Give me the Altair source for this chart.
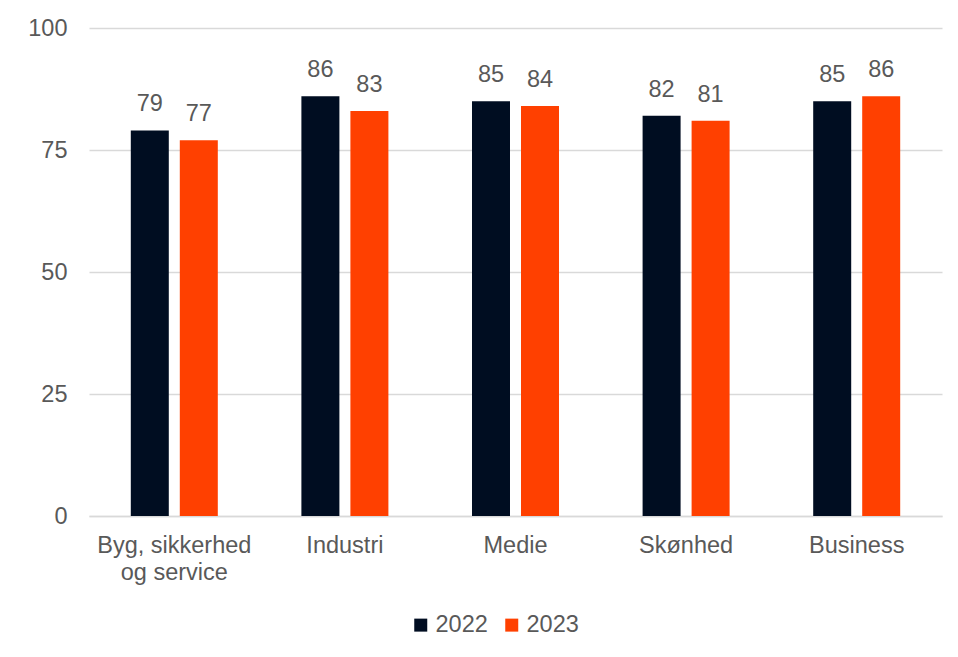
import altair as alt
import pandas as pd

categories = ["Byg, sikkerhed\nog service", "Industri", "Medie", "Skønhed", "Business"]
years = ["2022", "2023"]
values_2022 = [79, 86, 85, 82, 85]
values_2023 = [77, 83, 84, 81, 86]
colors = ["#000d21", "#ff4000"]

rows = []
for c, v1, v2 in zip(categories, values_2022, values_2023):
    rows.append({"category": c, "year": "2022", "value": v1})
    rows.append({"category": c, "year": "2023", "value": v2})
df = pd.DataFrame(rows)

FONT = "Liberation Sans"
GRAY = "#595959"
FS = 23.5

x = alt.X("category:N", sort=categories, title=None,
          scale=alt.Scale(paddingInner=0.49, paddingOuter=0.245),
          axis=alt.Axis(labelAngle=0, labelFontSize=FS, labelColor=GRAY, labelFont=FONT,
                        labelExpr="split(datum.label, '\\n')", labelLineHeight=27,
                        labelPadding=17, ticks=False, domainColor="#d9d9d9",
                        domainWidth=1.3, labelBaseline="top"))
xo = alt.XOffset("year:N", sort=years, scale=alt.Scale(paddingInner=0.2245, paddingOuter=0))

base = alt.Chart(df)
bars = base.mark_bar().encode(
    x=x, xOffset=xo,
    y=alt.Y("value:Q", title=None,
            scale=alt.Scale(domain=[0, 100], nice=False),
            axis=alt.Axis(values=[0, 25, 50, 75, 100], labelFontSize=FS, labelColor=GRAY,
                          labelFont=FONT, ticks=False, domain=False, gridColor="#d9d9d9",
                          gridWidth=1.3, labelPadding=22)),
    color=alt.Color("year:N", sort=years, scale=alt.Scale(domain=years, range=colors),
                    legend=alt.Legend(title=None, orient="none", direction="horizontal",
                                      legendX=320, legendY=585,
                                      symbolType="square", symbolSize=169, symbolStrokeWidth=0,
                                      labelFontSize=FS, labelColor=GRAY, labelFont=FONT,
                                      columnPadding=12, labelOffset=3)),
)
labels = base.mark_text(baseline="alphabetic", dy=-19, fontSize=FS, color=GRAY, font=FONT).encode(
    x=x, xOffset=xo, y="value:Q", text="value:Q"
)

chart = alt.layer(bars, labels).properties(
    width=853, height=488,
    padding={"left": 19, "top": 8, "right": 5, "bottom": 5},
    background="white",
).configure_view(strokeWidth=0, stroke="transparent")

chart.save("out.html", embed_options={"renderer": "svg", "actions": False})
